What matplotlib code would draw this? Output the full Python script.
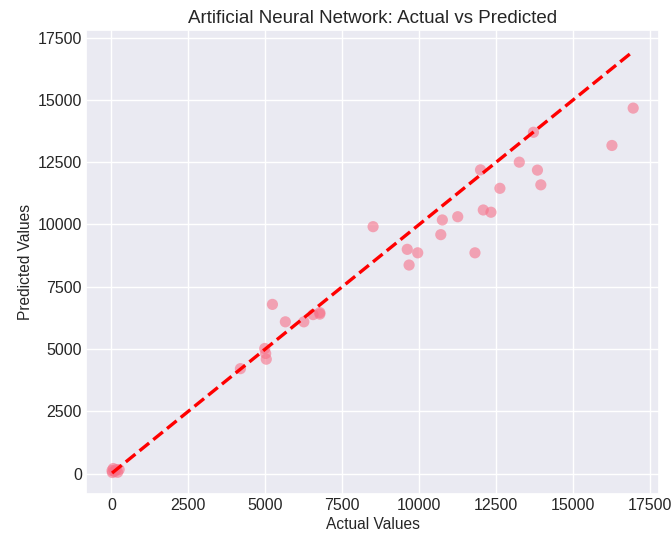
import matplotlib
matplotlib.use("Agg")
import matplotlib.pyplot as plt
import seaborn as sns

# values
actual = [20, 60, 100, 150, 200, 30, 250,
          4190, 5230, 5650, 6250, 6550, 6770, 6770, 4980, 5010, 5030,
          8500, 10750, 11250, 12080, 12330, 10700, 9610, 9950, 9670, 11810,
          16950, 13710, 13250, 16260, 13840, 12620, 13950, 11990]
predicted = [120, 200, 80, 150, 50, 40, 160,
             4210, 6790, 6090, 6090, 6380, 6460, 6400, 5020, 4820, 4590,
             9910, 10180, 10310, 10580, 10490, 9590, 9000, 8860, 8370, 8860,
             14670, 13700, 12500, 13170, 12180, 11450, 11590, 12190]

sns.set_theme(style="darkgrid")
plt.rcParams['font.family'] = ['Liberation Sans', 'DejaVu Sans']

fig, ax = plt.subplots(figsize=(6.72, 5.4), dpi=100)
point_color = sns.color_palette("husl", 8)[0]
ax.scatter(actual, predicted, color=point_color, alpha=0.6, s=65, edgecolors='none')
lo, hi = min(actual), max(actual)
ax.plot([lo, hi], [lo, hi], color='red', linestyle='--', lw=2.4)

ax.set_title('Artificial Neural Network: Actual vs Predicted', fontsize=13.5, pad=5)
ax.set_xlabel('Actual Values', fontsize=11.2, labelpad=3)
ax.set_ylabel('Predicted Values', fontsize=11.2, labelpad=3)
ax.tick_params(labelsize=11.5, length=0, pad=3)

fig.subplots_adjust(left=0.128, right=0.981, bottom=0.085, top=0.944)
fig.savefig('out.png', dpi=100)
